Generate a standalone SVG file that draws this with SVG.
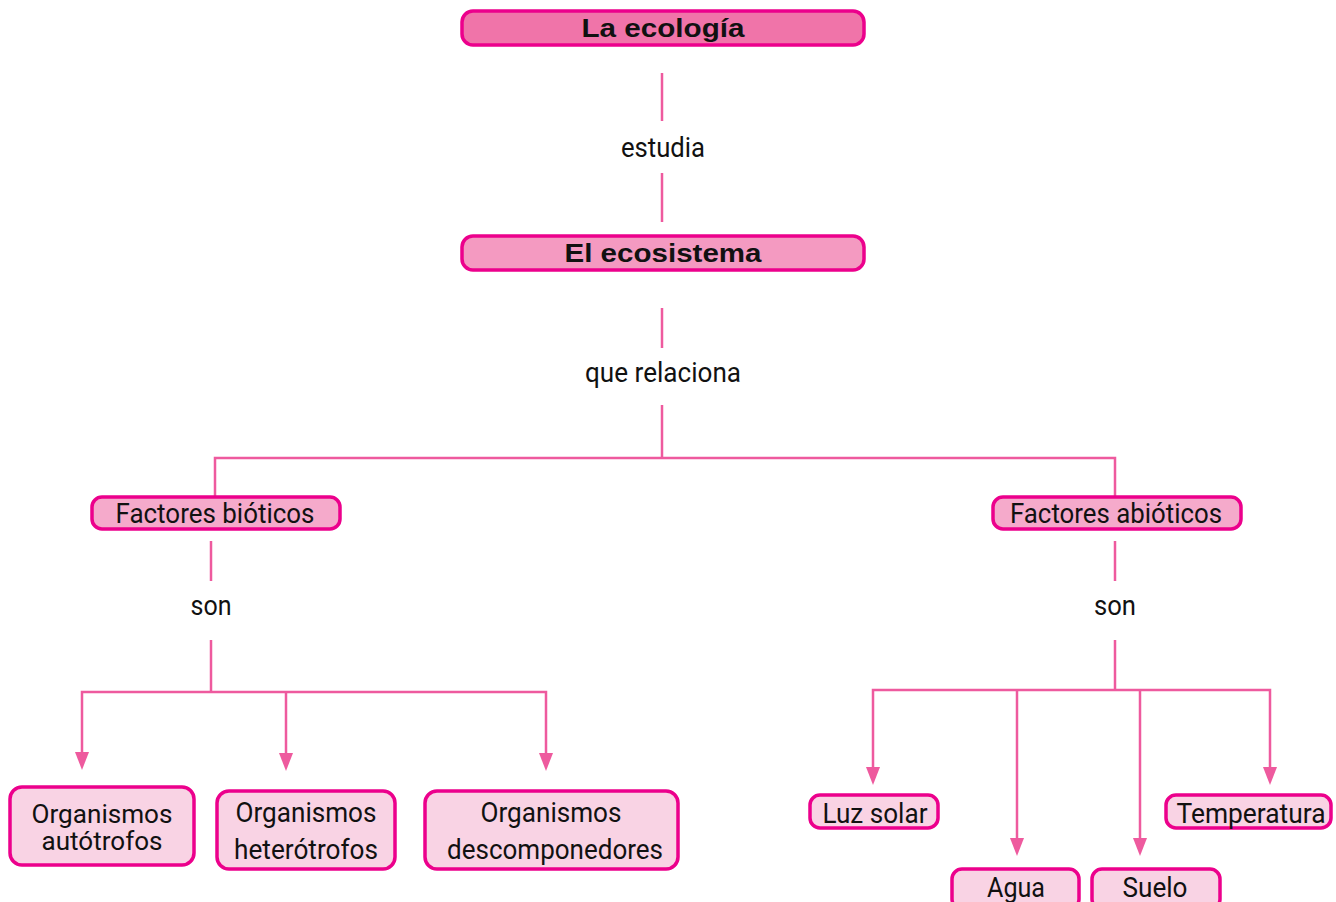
<svg xmlns="http://www.w3.org/2000/svg" width="1336" height="902" viewBox="0 0 1336 902">
<style>
.box{stroke:#ec008c;stroke-width:3.5}
.top{fill:#f074a9}
.mid{fill:#f49ac1}
.fac{fill:#f5aacb}
.leaf{fill:#f9d3e4}
.t{font-family:"Roboto","Liberation Sans",sans-serif;font-size:28px;fill:#111;text-anchor:middle}
.s{font-size:25px}
.b{font-family:"Liberation Sans","Arial",sans-serif;font-weight:bold;font-size:26px;fill:#111;text-anchor:middle}
.c{fill:none;stroke:#ee5a9e;stroke-width:2.5}
.h{fill:#ee5a9e}
</style>
<g id="connectors">
<line class="c" x1="662" y1="73" x2="662" y2="121"/>
<line class="c" x1="662" y1="173" x2="662" y2="222"/>
<line class="c" x1="662" y1="308" x2="662" y2="348"/>
<polyline class="c" points="662,405 662,458"/>
<polyline class="c" points="215,497 215,458 1115,458 1115,497"/>
<line class="c" x1="211" y1="541" x2="211" y2="581"/>
<polyline class="c" points="211,640 211,692"/>
<polyline class="c" points="82,753 82,692 546,692 546,753"/>
<line class="c" x1="286" y1="692" x2="286" y2="754"/>
<path class="h" d="M75,752 L89,752 L82,770 Z"/>
<path class="h" d="M279,753 L293,753 L286,771 Z"/>
<path class="h" d="M539,753 L553,753 L546,771 Z"/>
<line class="c" x1="1115" y1="541" x2="1115" y2="581"/>
<polyline class="c" points="1115,640 1115,690"/>
<polyline class="c" points="873,768 873,690 1270,690 1270,768"/>
<line class="c" x1="1017" y1="690" x2="1017" y2="840"/>
<line class="c" x1="1140" y1="690" x2="1140" y2="840"/>
<path class="h" d="M866,767 L880,767 L873,785 Z"/>
<path class="h" d="M1263,767 L1277,767 L1270,785 Z"/>
<path class="h" d="M1010,838 L1024,838 L1017,856 Z"/>
<path class="h" d="M1133,838 L1147,838 L1140,856 Z"/>
</g>
<g id="labels">
<text class="t" x="663" y="157" textLength="84" lengthAdjust="spacingAndGlyphs">estudia</text>
<text class="t" x="663" y="382" textLength="156" lengthAdjust="spacingAndGlyphs">que relaciona</text>
<text class="t" x="211" y="615" textLength="41" lengthAdjust="spacingAndGlyphs">son</text>
<text class="t" x="1115" y="615" textLength="42" lengthAdjust="spacingAndGlyphs">son</text>
</g>
<g id="n-ecologia">
<rect class="box top" x="462" y="11" width="402" height="34" rx="11"/>
<text class="b" x="663" y="37" textLength="163" lengthAdjust="spacingAndGlyphs">La ecología</text>
</g>
<g id="n-ecosistema">
<rect class="box mid" x="462" y="236" width="402" height="34" rx="11"/>
<text class="b" x="663" y="262" textLength="197" lengthAdjust="spacingAndGlyphs">El ecosistema</text>
</g>
<g id="n-bioticos">
<rect class="box fac" x="92" y="497" width="248" height="32" rx="10"/>
<text class="t" x="215" y="523" textLength="199" lengthAdjust="spacingAndGlyphs">Factores bióticos</text>
</g>
<g id="n-abioticos">
<rect class="box fac" x="993" y="497" width="248" height="32" rx="10"/>
<text class="t" x="1116" y="523" textLength="212" lengthAdjust="spacingAndGlyphs">Factores abióticos</text>
</g>
<g id="n-autotrofos">
<rect class="box leaf" x="10" y="787" width="184" height="78" rx="12"/>
<text class="t s" x="102" y="823" textLength="141" lengthAdjust="spacingAndGlyphs">Organismos</text>
<text class="t s" x="102" y="850" textLength="121" lengthAdjust="spacingAndGlyphs">autótrofos</text>
</g>
<g id="n-heterotrofos">
<rect class="box leaf" x="217" y="791" width="178" height="78" rx="12"/>
<text class="t" x="306" y="822" textLength="141" lengthAdjust="spacingAndGlyphs">Organismos</text>
<text class="t" x="306" y="859" textLength="144" lengthAdjust="spacingAndGlyphs">heterótrofos</text>
</g>
<g id="n-descomponedores">
<rect class="box leaf" x="425" y="791" width="253" height="78" rx="12"/>
<text class="t" x="551" y="822" textLength="141" lengthAdjust="spacingAndGlyphs">Organismos</text>
<text class="t" x="555" y="859" textLength="216" lengthAdjust="spacingAndGlyphs">descomponedores</text>
</g>
<g id="n-luz">
<rect class="box leaf" x="810" y="795" width="128" height="33" rx="10"/>
<text class="t" x="875" y="823" textLength="105" lengthAdjust="spacingAndGlyphs">Luz solar</text>
</g>
<g id="n-temperatura">
<rect class="box leaf" x="1166" y="795" width="165" height="33" rx="10"/>
<text class="t" x="1251" y="823" textLength="149" lengthAdjust="spacingAndGlyphs">Temperatura</text>
</g>
<g id="n-agua">
<rect class="box leaf" x="952" y="869" width="127" height="40" rx="10"/>
<text class="t" x="1016" y="897" textLength="58" lengthAdjust="spacingAndGlyphs">Agua</text>
</g>
<g id="n-suelo">
<rect class="box leaf" x="1092" y="869" width="128" height="40" rx="10"/>
<text class="t" x="1155" y="897" textLength="65" lengthAdjust="spacingAndGlyphs">Suelo</text>
</g>
</svg>
